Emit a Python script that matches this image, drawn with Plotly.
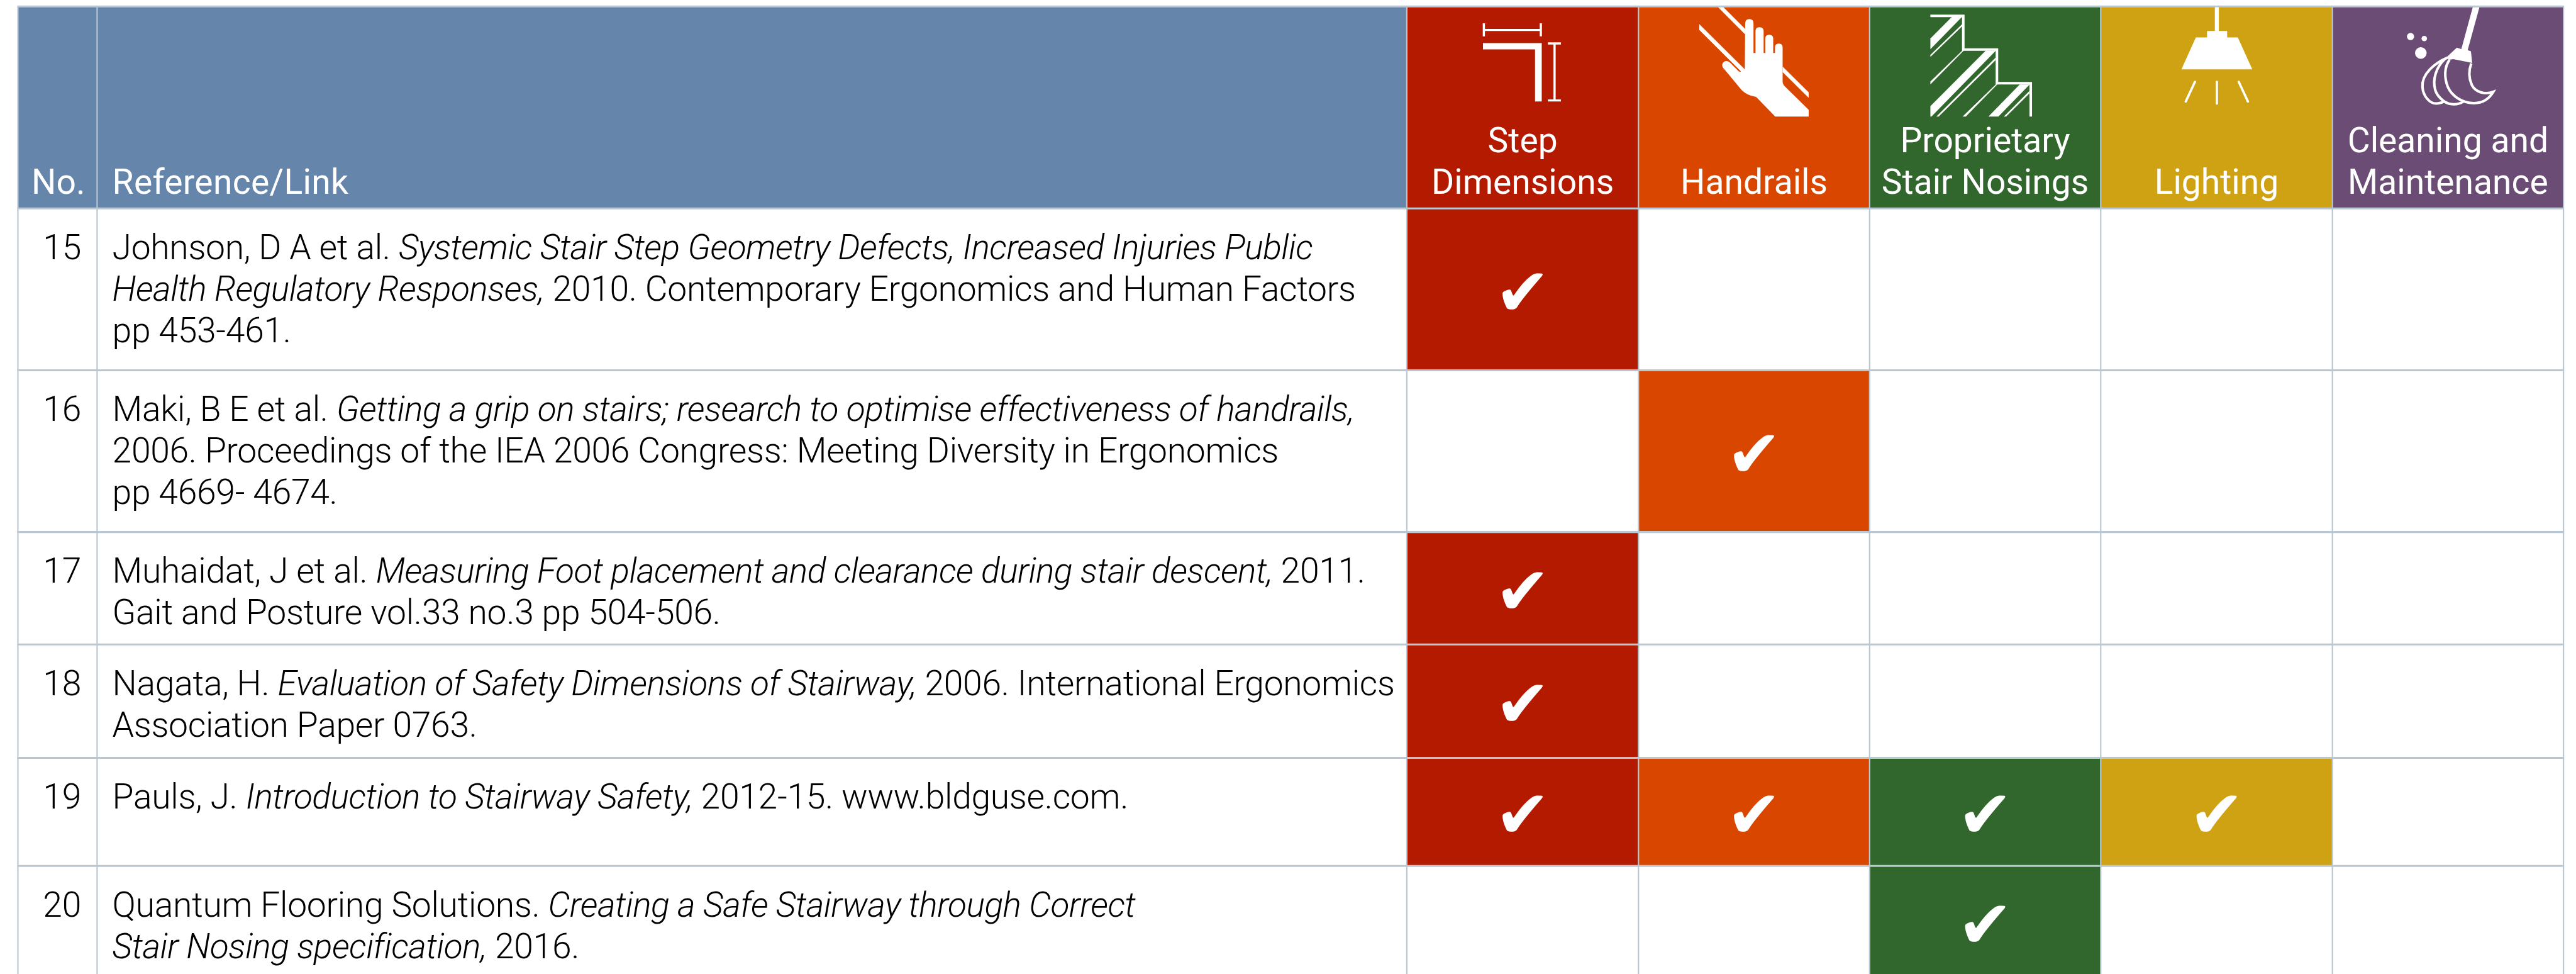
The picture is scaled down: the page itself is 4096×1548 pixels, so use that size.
import plotly.graph_objects as go

# ---------- data ----------
numbers = ["15", "16", "17", "18", "19", "20"]
references = [
    ["Johnson, D A et al. <i>Systemic Stair Step Geometry Defects, Increased Injuries Public</i>",
     "<i>Health Regulatory Responses,</i> 2010. Contemporary Ergonomics and Human Factors",
     "pp 453-461."],
    ["Maki, B E et al. <i>Getting a grip on stairs; research to optimise effectiveness of handrails,</i>",
     "2006. Proceedings of the IEA 2006 Congress: Meeting Diversity in Ergonomics",
     "pp 4669- 4674."],
    ["Muhaidat, J et al. <i>Measuring Foot placement and clearance during stair descent,</i> 2011.",
     "Gait and Posture vol.33 no.3 pp 504-506."],
    ["Nagata, H. <i>Evaluation of Safety Dimensions of Stairway,</i> 2006. International Ergonomics",
     "Association Paper 0763."],
    ["Pauls, J. <i>Introduction to Stairway Safety,</i> 2012-15. www.bldguse.com."],
    ["Quantum Flooring Solutions. <i>Creating a Safe Stairway through Correct</i>",
     "<i>Stair Nosing specification,</i> 2016."],
]
categories = [["Step", "Dimensions"], ["Handrails"], ["Proprietary", "Stair Nosings"],
              ["Lighting"], ["Cleaning and", "Maintenance"]]
step_dimensions = [1, 0, 1, 1, 1, 0]
handrails = [0, 1, 0, 0, 1, 0]
stair_nosings = [0, 0, 0, 0, 1, 1]
lighting = [0, 0, 0, 0, 1, 0]
cleaning = [0, 0, 0, 0, 0, 0]
series = [step_dimensions, handrails, stair_nosings, lighting, cleaning]

# ---------- layout (reference pixels) ----------
W, H = 4748, 1794
WIN_W, WIN_H = 4096, 1548
S = WIN_W / W
col_edges = [33, 179, 2593, 3020, 3446, 3872, 4299, 4725]
row_edges = [384, 682, 980, 1187, 1396, 1595, 1800]
TOP = 12
FS = 64 * S
LH = 76.5
BASE_SHIFT = 17
HEAD_BASE = 358
colors = ["#B41A00", "#D94600", "#31672D", "#CFA213", "#6A4C74"]
HEADER = "#6586AA"
GRID = "#B8C7D2"
LIGHT = "Roboto"
ITALIC_SP = "-0.55px"
ROMAN_SP = "-0.3px"

def spaced(s):
    s = s.replace("<i>", f'<i><span style="letter-spacing:{ITALIC_SP}">').replace("</i>", "</span></i>")
    return f'<span style="letter-spacing:{ROMAN_SP}">{s}</span>'

shapes = []
def rect(x0, y0, x1, y1, fill):
    shapes.append(dict(type="rect", x0=x0, y0=y0, x1=x1, y1=y1, xref="x", yref="y",
                       fillcolor=fill, line=dict(width=0), layer="below"))

# header and cell fills
rect(col_edges[0], TOP, col_edges[2], row_edges[0], HEADER)
for c, col in enumerate(colors):
    rect(col_edges[c + 2], TOP, col_edges[c + 3], row_edges[0], col)
    for r, v in enumerate(series[c]):
        if v:
            rect(col_edges[c + 2], row_edges[r], col_edges[c + 3], row_edges[r + 1], col)

# grid
def hline(y, w):
    shapes.append(dict(type="line", x0=col_edges[0] - 1, x1=col_edges[-1] + 1, y0=y, y1=y, xref="x", yref="y",
                       line=dict(color=GRID, width=w * S), layer="below"))
def vline(x, w):
    shapes.append(dict(type="line", x0=x, x1=x, y0=TOP, y1=H + 5, xref="x", yref="y",
                       line=dict(color=GRID, width=w * S), layer="below"))
for x in col_edges:
    vline(x, 2.5)
hline(TOP, 3.5)
for y in row_edges[:-1]:
    hline(y, 3.5)

# ---------- icons ----------
def conv(path, ox, oy=0):
    """path written in 3x crop coordinates -> reference coordinates"""
    out = []
    for tok in path.split():
        cmd = ""
        if tok[0].isalpha():
            cmd, tok = tok[0], tok[1:]
        if tok:
            a, b = tok.split(",")
            tok = f"{ox + float(a) / 3:.2f},{oy + float(b) / 3:.2f}"
        out.append(cmd + tok)
    return " ".join(out)

def fill(path, ox, oy=0, color="white"):
    shapes.append(dict(type="path", path=conv(path, ox, oy), xref="x", yref="y",
                       fillcolor=color, line=dict(width=0), layer="above"))
def stroke(path, ox, w, oy=0):
    shapes.append(dict(type="path", path=conv(path, ox, oy), xref="x", yref="y",
                       line=dict(color="white", width=w * S), layer="above"))
def dot(cx, cy, r, ox):
    shapes.append(dict(type="circle", x0=ox + (cx - r) / 3, x1=ox + (cx + r) / 3,
                       y0=(cy - r) / 3, y1=(cy + r) / 3, xref="x", yref="y",
                       fillcolor="white", line=dict(width=0), layer="above"))

# step dimensions
o = 2700
for p in ["M99,129 L111,129 L111,160 L414,160 L414,129 L426,129 L426,201 L414,201 L414,171 L111,171 L111,201 L99,201 Z",
          "M100,238 L425,238 L425,561 L388,561 L388,273 L100,273 Z",
          "M459,234 L531,234 L531,246 L502,246 L502,549 L531,549 L531,561 L459,561 L459,549 L490,549 L490,246 L459,246 Z"]:
    fill(p, o)

# handrails
o = 3110
fill("M170,40 L200,40 L320,160 L320,190 Z", o)
fill("M66,133 L318,383 L300,398 L66,165 Z", o)
fill("M527,368 L671,510 L671,541 L527,398 Z", o)
fill("M320,130 Q320,105 343,105 Q366,105 366,130 L366,293 L377,293 L377,173 Q377,150 400,150 Q422,150 422,173 "
     "L422,293 L431,293 L431,213 Q431,192 453,192 Q475,192 475,213 L475,293 L485,293 L485,262 Q485,241 506,241 "
     "Q527,241 527,262 L527,450 Q527,465 540,478 L671,607 L671,644 L486,644 L380,535 Q330,528 300,497 L198,375 "
     "Q185,355 205,340 Q220,332 235,345 L285,395 Q295,400 318,383 Z", o)

# stair nosings
o = 3540
stroke("M54,88 L236,88 L236,274 L422,274 L422,460 L609,460 L609,644", o, 4.7)
for p in ["M176,90 L232,90 L54,272 L54,213 Z",
          "M230,133 L230,145 L54,315 L54,303 Z",
          "M232,278 L240,278 L54,467 L54,450 Z",
          "M360,280 L416,280 L60,644 L54,644 L54,587 Z",
          "M415,318 L415,332 L100,644 L87,644 Z",
          "M420,462 L428,462 L250,644 L232,644 Z",
          "M548,467 L603,467 L430,644 L375,644 Z",
          "M601,503 L601,517 L473,644 L460,644 Z"]:
    fill(p, o)

# lighting
o = 3980
fill("M307,40 L329,40 L329,171 L375,171 L375,207 L434,207 L514,383 L122,383 L202,207 L264,207 L264,171 L307,171 Z", o)
for a, b in [((197, 452), (146, 561)), ((318, 452), (318, 572)), ((439, 452), (490, 561))]:
    stroke(f"M{a[0]},{a[1]} L{b[0]},{b[1]}", o, 4.2)
    dot(a[0], a[1], 6.5, o)
    dot(b[0], b[1], 6.5, o)

# cleaning
o = 4400
fill("M473,40 L510,40 L445,277 L463,283 L470,348 L366,327 L340,330 L330,315 L385,263 L410,271 Z", o)
stroke("M335,318 C260,350 190,410 195,480 C198,530 235,572 270,572 Q295,572 315,560", o, 4.7)
stroke("M320,325 C270,370 250,440 265,495 C275,530 310,565 345,574 Q390,582 420,562", o, 4.7)
stroke("M345,330 C315,370 315,430 335,480 C360,535 420,570 480,570 C530,570 565,545 587,507 "
       "C540,525 490,510 468,470 C450,430 450,390 465,350", o, 4.7)
dot(129, 202, 20, o)
dot(205, 213, 15, o)
dot(186, 293, 32, o)

# ---------- text ----------
fig = go.Figure()
def text(x, base, s, pos, color, fs=FS, weight=300, font=LIGHT):
    fig.add_trace(go.Scatter(x=[x], y=[base - BASE_SHIFT], mode="text", text=[s], textposition=pos,
                             textfont=dict(family=font, size=fs, color=color, weight=weight),
                             hoverinfo="skip", showlegend=False, cliponaxis=False))

text(58, HEAD_BASE, "No.", "middle right", "white", weight=400)
text(207, HEAD_BASE, '<span style="letter-spacing:0.3px">Reference/Link</span>', "middle right", "white", weight=400)
for c, lines in enumerate(categories):
    cx = (col_edges[c + 2] + col_edges[c + 3]) / 2
    for i, s in enumerate(reversed(lines)):
        text(cx, HEAD_BASE - i * LH, s, "middle center", "white", weight=400)

for r, lines in enumerate(references):
    first = row_edges[r] + 94.6
    text(150, first, numbers[r], "middle left", "black")
    for i, s in enumerate(lines):
        text(207, first + i * LH, spaced(s), "middle right", "black")

# check marks
cx, cy = [], []
for c, vals in enumerate(series):
    for r, v in enumerate(vals):
        if v:
            cx.append((col_edges[c + 2] + col_edges[c + 3]) / 2)
            cy.append((row_edges[r] + row_edges[r + 1]) / 2 + 17)
fig.add_trace(go.Scatter(x=cx, y=cy, mode="text", text=["\u2714"] * len(cx), textposition="middle center",
                         textfont=dict(family="DejaVu Sans", size=122 * S, color="white"),
                         hoverinfo="skip", showlegend=False))

fig.update_layout(
    width=WIN_W, height=WIN_H, margin=dict(l=0, r=0, t=0, b=0),
    paper_bgcolor="white", plot_bgcolor="white", shapes=shapes,
    xaxis=dict(range=[0, W], visible=False, fixedrange=True),
    yaxis=dict(range=[H, 0], visible=False, fixedrange=True),
    showlegend=False,
)
fig.write_html("out.html", config={"displayModeBar": False},
               post_script="document.body.style.margin='0';document.body.style.overflow='hidden';")
